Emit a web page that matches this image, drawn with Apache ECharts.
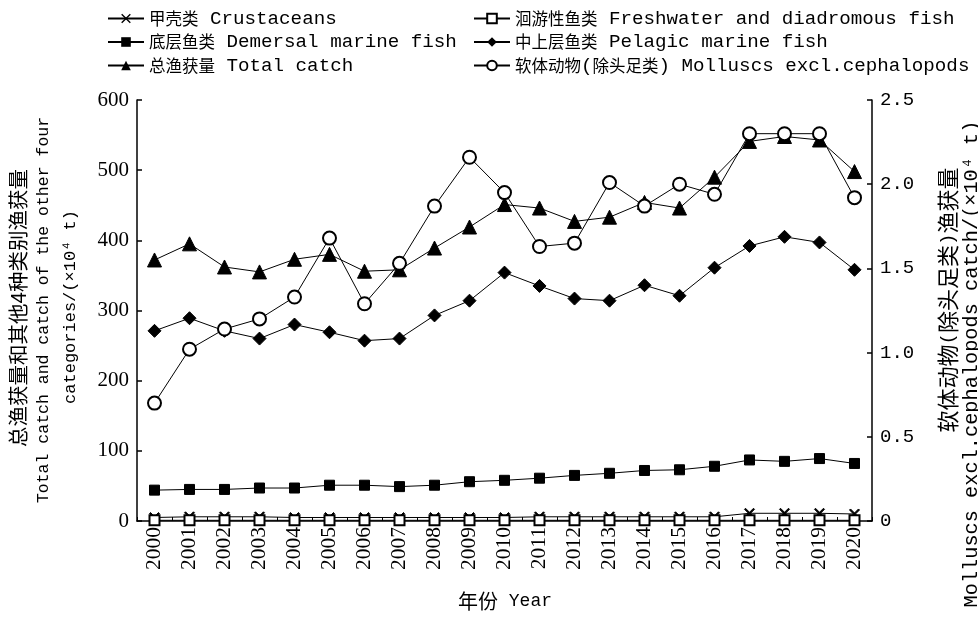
<!DOCTYPE html>
<html>
<head>
<meta charset="utf-8">
<script src="https://cdn.jsdelivr.net/npm/echarts@6/dist/echarts.min.js"></script>
<style>html,body{margin:0;padding:0;background:#fff}#c{width:978px;height:617px}</style>
</head>
<body>
<div id="c"></div>
<script>
const years = ['2000','2001','2002','2003','2004','2005','2006','2007','2008','2009','2010','2011','2012','2013','2014','2015','2016','2017','2018','2019','2020'];
const crustaceans = [5,6,6,6,5,5,5,5,5,5,5,6,6,6,6,6,6,11,11,11,10];
const freshwater = [1,1,1,1,1,1,1,1,1,1,1,1,1,1,1,1,1,1,1,1,1];
const demersal = [44,45,45,47,47,51,51,49,51,56,58,61,65,68,72,73,78,87,85,89,82];
const pelagic = [271,289,271,260,280,269,257,260,293,314,354,335,317,314,336,321,361,392,405,397,358];
const totalCatch = [372,395,362,355,373,380,356,358,389,419,451,446,427,433,454,446,490,541,548,543,498];
const molluscs = [0.70,1.02,1.14,1.20,1.33,1.68,1.29,1.53,1.87,2.16,1.95,1.63,1.65,2.01,1.87,2.00,1.94,2.30,2.30,2.30,1.92];
const leftTicks = [0,100,200,300,400,500,600];
const rightTicks = [0,0.5,1.0,1.5,2.0,2.5];

const names = {
  cr: '甲壳类 Crustaceans',
  fw: '洄游性鱼类 Freshwater and diadromous fish',
  de: '底层鱼类 Demersal marine fish',
  pe: '中上层鱼类 Pelagic marine fish',
  to: '总渔获量 Total catch',
  mo: '软体动物(除头足类) Molluscs excl.cephalopods'
};

function mix(s, c, e) {
  return s.replace(/([\u3000-\u9fff\uff00-\uffef]+)|([^\u3000-\u9fff\uff00-\uffef]+)/g,
    (m, cj, la) => cj ? '{' + c + '|' + cj + '}' : '{' + e + '|' + la + '}');
}
const CJK = 'Noto Sans CJK SC';
const MONO = 'Liberation Mono';
const SERIF = 'Liberation Serif';

const legendRich = {
  c: {fontFamily: CJK, fontSize: 16.5, color: '#000', lineHeight: 22},
  e: {fontFamily: MONO, fontSize: 19.2, color: '#000', lineHeight: 22}
};
const xPath = 'path://M0,1L1,0L5,4L9,0L10,1L6,5L10,9L9,10L5,6L1,10L0,9L4,5Z';

function mk(name, data, yIdx, symbol, size, extra) {
  return Object.assign({
    name: name, type: 'line', yAxisIndex: yIdx, data: data,
    symbol: symbol, symbolSize: size,
    lineStyle: {color: '#000', width: 1},
    itemStyle: {color: '#000', borderColor: '#000'},
    emphasis: {disabled: true}
  }, extra || {});
}

const chart = echarts.init(document.getElementById('c'));
const axisCommon = {
  axisLine: {show: true, lineStyle: {color: '#000', width: 1.5}},
  axisTick: {show: true, inside: true, length: 5, lineStyle: {color: '#000', width: 1.5}},
  splitLine: {show: false}
};
chart.setOption({
  animation: false,
  backgroundColor: '#fff',
  grid: {left: 137, right: 106, top: 100, bottom: 96, containLabel: false},
  legend: [
    {orient: 'vertical', left: 102, top: 4, itemWidth: 36, itemHeight: 12, itemGap: 4.5,
     data: [names.cr, names.de, names.to],
     formatter: n => mix(n, 'c', 'e'), textStyle: {rich: legendRich}},
    {orient: 'vertical', left: 468, top: 4, itemWidth: 36, itemHeight: 12, itemGap: 4.5,
     data: [names.fw, names.pe, names.mo],
     formatter: n => mix(n, 'c', 'e'), textStyle: {rich: legendRich}}
  ],
  xAxis: {
    type: 'category', data: years, boundaryGap: true,
    axisLine: {show: true, lineStyle: {color: '#000', width: 1.5}},
    axisTick: {show: true, inside: true, length: 4, lineStyle: {color: '#000', width: 1}},
    axisLabel: {rotate: 90, interval: 0, fontFamily: SERIF, fontSize: 21.5, color: '#000', margin: 6},
    splitLine: {show: false}
  },
  yAxis: [
    Object.assign({type: 'value', position: 'left', min: 0, max: 600, interval: 100,
      axisLabel: {fontFamily: SERIF, fontSize: 21, color: '#000', margin: 8,
        formatter: v => leftTicks.includes(v) ? String(v) : ''}}, axisCommon),
    Object.assign({type: 'value', position: 'right', min: 0, max: 2.5, interval: 0.5,
      axisLabel: {fontFamily: MONO, fontSize: 19, color: '#000', margin: 8,
        formatter: v => rightTicks.some(t => Math.abs(t - v) < 1e-9) ? (v === 0 ? '0' : v.toFixed(1)) : ''}}, axisCommon)
  ],
  series: [
    mk(names.cr, crustaceans, 0, xPath, 10),
    mk(names.fw, freshwater, 0, 'emptyRect', 10, {itemStyle: {color: '#000', borderColor: '#000', borderWidth: 1.5}}),
    mk(names.de, demersal, 0, 'rect', 10),
    mk(names.pe, pelagic, 0, 'diamond', 13),
    mk(names.to, totalCatch, 0, 'triangle', 14),
    mk(names.mo, molluscs, 1, 'emptyCircle', 13, {itemStyle: {color: '#000', borderColor: '#000', borderWidth: 2}})
  ],
  graphic: [
    {type: 'text', x: 18, y: 308, rotation: Math.PI / 2,
     style: {text: '{c|总渔获量和其他4种类别渔获量}', rich: {c: {fontFamily: CJK, fontSize: 20.5, fill: '#000'}}, align: 'center', verticalAlign: 'middle'}},
    {type: 'text', x: 44, y: 310, rotation: Math.PI / 2,
     style: {text: 'Total catch and catch of the other four', fontFamily: MONO, fontSize: 16.5, fill: '#000', align: 'center', verticalAlign: 'middle'}},
    {type: 'text', x: 70, y: 307, rotation: Math.PI / 2,
     style: {text: 'categories/(×10⁴ t)', fontFamily: MONO, fontSize: 17, fill: '#000', align: 'center', verticalAlign: 'middle'}},
    {type: 'text', x: 948, y: 300, rotation: Math.PI / 2,
     style: {text: mix('软体动物(除头足类)渔获量', 'c', 'e'), rich: {c: {fontFamily: CJK, fontSize: 22, fill: '#000'}, e: {fontFamily: MONO, fontSize: 19, fill: '#000'}}, align: 'center', verticalAlign: 'middle'}},
    {type: 'text', x: 972, y: 364, rotation: Math.PI / 2,
     style: {text: 'Molluscs excl.cephalopods catch/(×10⁴ t)', fontFamily: MONO, fontSize: 20.3, fill: '#000', align: 'center', verticalAlign: 'middle'}},
    {type: 'text', x: 505, y: 601,
     style: {text: mix('年份 Year', 'c', 'e'), rich: {c: {fontFamily: CJK, fontSize: 20, fill: '#000'}, e: {fontFamily: MONO, fontSize: 18, fill: '#000'}}, align: 'center', verticalAlign: 'middle'}}
  ]
});
</script>
</body>
</html>
